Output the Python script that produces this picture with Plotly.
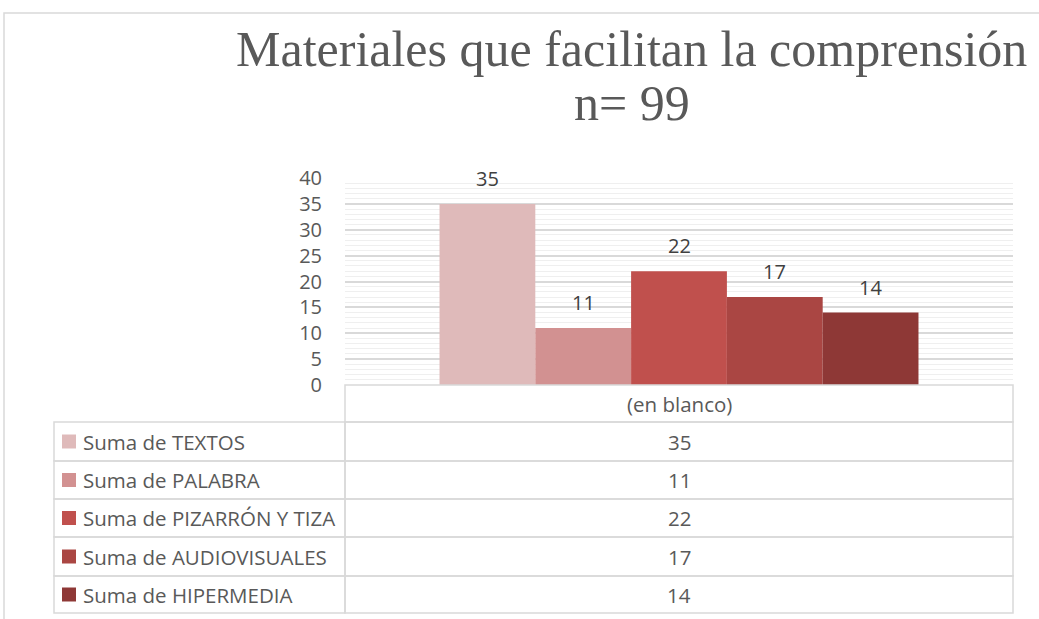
import plotly.graph_objects as go

# ---- data ----
category = ["(en blanco)"]
series_names = ["Suma de TEXTOS", "Suma de PALABRA", "Suma de PIZARRÓN Y TIZA",
                "Suma de AUDIOVISUALES", "Suma de HIPERMEDIA"]
series_values = [35, 11, 22, 17, 14]
series_colors = ["#dfbaba", "#d29191", "#c0504d", "#aa4643", "#8e3836"]
title_line1 = "Materiales que facilitan la comprensión"
title_line2 = "n= 99"

W, H = 1039, 619
L, R, T, B = 345, 1013, 178, 385   # plot area in pixels
BARGAP = 0.283

def px(x):
    return (x - L) / (R - L)

def py(y):
    return (B - y) / (B - T)

TXT = "#595959"
GRID = "#d9d9d9"
FONT = "'Open Sans', sans-serif"
FS = 20
FS_TBL = 20.5

fig = go.Figure()
for name, val, col in zip(series_names, series_values, series_colors):
    fig.add_trace(go.Bar(
        x=category, y=[val], name=name, marker=dict(color=col, line=dict(width=0)),
    ))

shapes = []
annotations = []

# data labels above bars (offset within the group derived from bargap)
n = len(series_values)
group_w = 1 - BARGAP
for i, val in enumerate(series_values):
    xoff = -group_w / 2 + (i + 0.5) * group_w / n
    annotations.append(dict(text=str(val), xref="x", yref="y", x=xoff, y=val,
                            showarrow=False, xanchor="center", yanchor="bottom", yshift=10,
                            font=dict(family=FONT, size=FS, color="#404040")))

# outer chart border
shapes.append(dict(type="rect", xref="paper", yref="paper",
                   x0=px(4), x1=px(1100), y0=py(13), y1=py(700),
                   line=dict(color=GRID, width=1.5), layer="below"))

# title
annotations.append(dict(text=title_line1, xref="paper", yref="paper",
                        x=px(631), y=py(49), showarrow=False, xanchor="center", yanchor="middle",
                        font=dict(family="'Liberation Serif', serif", size=50, color=TXT)))
annotations.append(dict(text=title_line2, xref="paper", yref="paper",
                        x=px(632), y=py(103), showarrow=False, xanchor="center", yanchor="middle",
                        font=dict(family="'Liberation Serif', serif", size=50, color=TXT)))

# data table
LINE = dict(color=GRID, width=1.5)
tbl_left, tbl_mid, tbl_right = 54, 345, 1013
header_top, header_bot = 385, 422
row_edges = [422, 461, 499, 537, 576, 613]

shapes.append(dict(type="rect", xref="paper", yref="paper",
                   x0=px(tbl_mid), x1=px(tbl_right), y0=py(header_top), y1=py(header_bot), line=LINE))
annotations.append(dict(text=category[0], xref="paper", yref="paper",
                        x=px((tbl_mid + tbl_right) / 2), y=py((header_top + header_bot) / 2),
                        showarrow=False, xanchor="center", yanchor="middle",
                        font=dict(family=FONT, size=FS_TBL, color=TXT)))

for i, (name, val, col) in enumerate(zip(series_names, series_values, series_colors)):
    y0, y1 = row_edges[i], row_edges[i + 1]
    yc = (y0 + y1) / 2
    shapes.append(dict(type="rect", xref="paper", yref="paper",
                       x0=px(tbl_left), x1=px(tbl_mid), y0=py(y0), y1=py(y1), line=LINE))
    shapes.append(dict(type="rect", xref="paper", yref="paper",
                       x0=px(tbl_mid), x1=px(tbl_right), y0=py(y0), y1=py(y1), line=LINE))
    shapes.append(dict(type="rect", xref="paper", yref="paper",
                       x0=px(62), x1=px(76), y0=py(yc - 7), y1=py(yc + 7),
                       line=dict(width=0), fillcolor=col))
    annotations.append(dict(text=name, xref="paper", yref="paper",
                            x=px(81), y=py(yc), showarrow=False, xanchor="left", yanchor="middle",
                            font=dict(family=FONT, size=FS_TBL, color=TXT)))
    annotations.append(dict(text=str(val), xref="paper", yref="paper",
                            x=px((tbl_mid + tbl_right) / 2), y=py(yc), showarrow=False,
                            xanchor="center", yanchor="middle",
                            font=dict(family=FONT, size=FS_TBL, color=TXT)))

fig.update_layout(
    width=W, height=H,
    margin=dict(l=L, r=W - R, t=T, b=H - B, pad=0),
    paper_bgcolor="white", plot_bgcolor="white",
    barmode="group", bargap=BARGAP, bargroupgap=0,
    showlegend=False,
    shapes=shapes, annotations=annotations,
    xaxis=dict(showticklabels=False, showgrid=False, zeroline=False, showline=False, fixedrange=True),
    yaxis=dict(range=[0, 40], dtick=5, tick0=0, showgrid=True, gridcolor=GRID, gridwidth=1.5,
               zeroline=False, showline=False, ticks="", ticklabelstandoff=22,
               tickfont=dict(family=FONT, size=FS, color=TXT),
               minor=dict(dtick=1, showgrid=True, gridcolor="#efefef", gridwidth=1)),
)

fig.write_html("out.html", config={"displayModeBar": False},
               post_script="document.body.style.margin='0';")
